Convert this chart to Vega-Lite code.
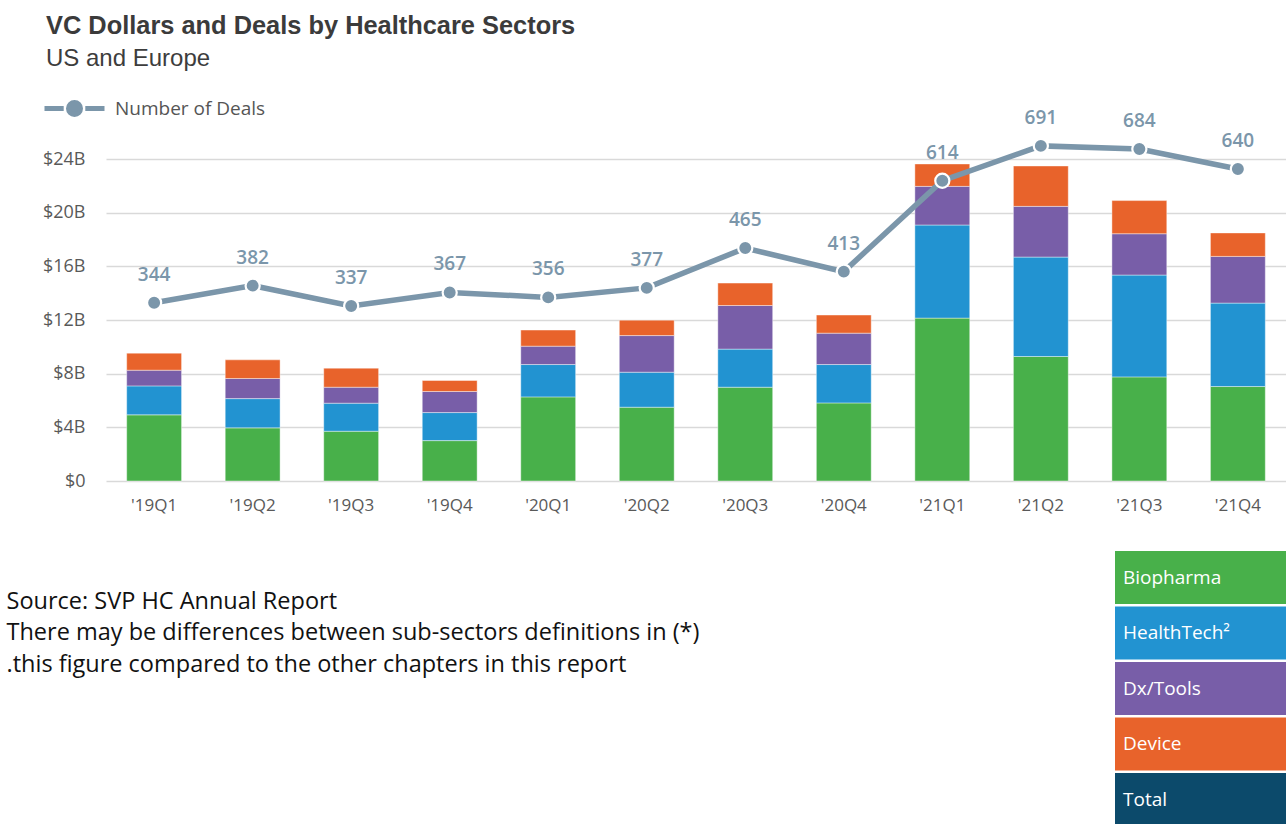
{
  "$schema": "https://vega.github.io/schema/vega-lite/v6.json",
  "width": 1180,
  "height": 322,
  "autosize": {"type": "none"},
  "padding": {"left": 106, "top": 159, "right": 0, "bottom": 343},
  "background": "white",
  "config": {"view": {"stroke": null}},
  "title": {
    "text": "VC Dollars and Deals by Healthcare Sectors",
    "subtitle": "US and Europe",
    "anchor": "start",
    "frame": "group",
    "dx": -60,
    "offset": 5,
    "font": "Liberation Sans",
    "fontSize": 25.4,
    "fontWeight": "bold",
    "color": "#3b3b3b",
    "subtitleFont": "Liberation Sans",
    "subtitleFontSize": 24,
    "subtitleColor": "#3d3d3d",
    "subtitlePadding": 8
  },
  "datasets": {
    "bars": [
      {"q": "'19Q1", "sector": "Biopharma", "k": 1, "v": 4.93},
      {"q": "'19Q1", "sector": "HealthTech²", "k": 2, "v": 2.16},
      {"q": "'19Q1", "sector": "Dx/Tools", "k": 3, "v": 1.17},
      {"q": "'19Q1", "sector": "Device", "k": 4, "v": 1.27},
      {"q": "'19Q2", "sector": "Biopharma", "k": 1, "v": 3.96},
      {"q": "'19Q2", "sector": "HealthTech²", "k": 2, "v": 2.18},
      {"q": "'19Q2", "sector": "Dx/Tools", "k": 3, "v": 1.50},
      {"q": "'19Q2", "sector": "Device", "k": 4, "v": 1.39},
      {"q": "'19Q3", "sector": "Biopharma", "k": 1, "v": 3.71},
      {"q": "'19Q3", "sector": "HealthTech²", "k": 2, "v": 2.09},
      {"q": "'19Q3", "sector": "Dx/Tools", "k": 3, "v": 1.19},
      {"q": "'19Q3", "sector": "Device", "k": 4, "v": 1.42},
      {"q": "'19Q4", "sector": "Biopharma", "k": 1, "v": 3.01},
      {"q": "'19Q4", "sector": "HealthTech²", "k": 2, "v": 2.09},
      {"q": "'19Q4", "sector": "Dx/Tools", "k": 3, "v": 1.57},
      {"q": "'19Q4", "sector": "Device", "k": 4, "v": 0.82},
      {"q": "'20Q1", "sector": "Biopharma", "k": 1, "v": 6.27},
      {"q": "'20Q1", "sector": "HealthTech²", "k": 2, "v": 2.41},
      {"q": "'20Q1", "sector": "Dx/Tools", "k": 3, "v": 1.37},
      {"q": "'20Q1", "sector": "Device", "k": 4, "v": 1.20},
      {"q": "'20Q2", "sector": "Biopharma", "k": 1, "v": 5.50},
      {"q": "'20Q2", "sector": "HealthTech²", "k": 2, "v": 2.61},
      {"q": "'20Q2", "sector": "Dx/Tools", "k": 3, "v": 2.73},
      {"q": "'20Q2", "sector": "Device", "k": 4, "v": 1.15},
      {"q": "'20Q3", "sector": "Biopharma", "k": 1, "v": 6.99},
      {"q": "'20Q3", "sector": "HealthTech²", "k": 2, "v": 2.84},
      {"q": "'20Q3", "sector": "Dx/Tools", "k": 3, "v": 3.25},
      {"q": "'20Q3", "sector": "Device", "k": 4, "v": 1.67},
      {"q": "'20Q4", "sector": "Biopharma", "k": 1, "v": 5.82},
      {"q": "'20Q4", "sector": "HealthTech²", "k": 2, "v": 2.86},
      {"q": "'20Q4", "sector": "Dx/Tools", "k": 3, "v": 2.34},
      {"q": "'20Q4", "sector": "Device", "k": 4, "v": 1.35},
      {"q": "'21Q1", "sector": "Biopharma", "k": 1, "v": 12.14},
      {"q": "'21Q1", "sector": "HealthTech²", "k": 2, "v": 6.94},
      {"q": "'21Q1", "sector": "Dx/Tools", "k": 3, "v": 2.88},
      {"q": "'21Q1", "sector": "Device", "k": 4, "v": 1.67},
      {"q": "'21Q2", "sector": "Biopharma", "k": 1, "v": 9.28},
      {"q": "'21Q2", "sector": "HealthTech²", "k": 2, "v": 7.41},
      {"q": "'21Q2", "sector": "Dx/Tools", "k": 3, "v": 3.78},
      {"q": "'21Q2", "sector": "Device", "k": 4, "v": 3.01},
      {"q": "'21Q3", "sector": "Biopharma", "k": 1, "v": 7.76},
      {"q": "'21Q3", "sector": "HealthTech²", "k": 2, "v": 7.59},
      {"q": "'21Q3", "sector": "Dx/Tools", "k": 3, "v": 3.08},
      {"q": "'21Q3", "sector": "Device", "k": 4, "v": 2.47},
      {"q": "'21Q4", "sector": "Biopharma", "k": 1, "v": 7.04},
      {"q": "'21Q4", "sector": "HealthTech²", "k": 2, "v": 6.22},
      {"q": "'21Q4", "sector": "Dx/Tools", "k": 3, "v": 3.48},
      {"q": "'21Q4", "sector": "Device", "k": 4, "v": 1.75}
    ],
    "deals": [
      {"q": "'19Q1", "deals": 344},
      {"q": "'19Q2", "deals": 382},
      {"q": "'19Q3", "deals": 337},
      {"q": "'19Q4", "deals": 367},
      {"q": "'20Q1", "deals": 356},
      {"q": "'20Q2", "deals": 377},
      {"q": "'20Q3", "deals": 465},
      {"q": "'20Q4", "deals": 413},
      {"q": "'21Q1", "deals": 614},
      {"q": "'21Q2", "deals": 691},
      {"q": "'21Q3", "deals": 684},
      {"q": "'21Q4", "deals": 640}
    ]
  },
  "layer": [
    {
      "data": {"name": "bars"},
      "mark": {"type": "bar", "stroke": "#ffffff", "strokeWidth": 0.7, "strokeOpacity": 0.6},
      "encoding": {
        "x": {
          "field": "q",
          "type": "nominal",
          "sort": null,
          "scale": {"paddingInner": 0.443, "paddingOuter": 0.21},
          "axis": {
            "title": ["Source: SVP HC Annual Report", "There may be differences between sub-sectors definitions in (*)", ".this figure compared to the other chapters in this report"],
            "titleX": -100,
            "titleY": 108,
            "titleAlign": "left",
            "titleBaseline": "top",
            "titleFont": "Open Sans",
            "titleFontSize": 23.5,
            "titleFontWeight": "normal",
            "titleColor": "#111111",
            "titleLineHeight": 31.5,
            "labelAngle": 0,
            "ticks": false,
            "domain": false,
            "labelPadding": 16,
            "labelFont": "Open Sans",
            "labelFontSize": 17,
            "labelColor": "#595959"
          }
        },
        "y": {
          "aggregate": "sum",
          "field": "v",
          "type": "quantitative",
          "stack": "zero",
          "scale": {"domain": [0, 24], "nice": false},
          "axis": {
            "title": null,
            "values": [0, 4, 8, 12, 16, 20, 24],
            "labelExpr": "datum.value == 0 ? '$0' : '$' + datum.value + 'B'",
            "domain": false,
            "ticks": false,
            "labelPadding": 21,
            "labelFont": "Open Sans",
            "labelFontSize": 18,
            "labelColor": "#595959",
            "gridColor": "#d9d9d9",
            "gridWidth": 1.6
          }
        },
        "fill": {
          "field": "sector",
          "type": "nominal",
          "scale": {
            "domain": ["Biopharma", "HealthTech²", "Dx/Tools", "Device", "Total"],
            "range": ["#48b04a", "#2293d1", "#785ea8", "#e8632b", "#0c4a6b"]
          },
          "legend": {
            "orient": "none",
            "legendX": 1009,
            "legendY": 391,
            "title": null,
            "padding": 0,
            "symbolType": "M-1,-0.96 H5.25 V0.96 H-1 Z",
            "symbolSize": 3025,
            "symbolStrokeWidth": 0,
            "symbolOpacity": 1,
            "labelColor": "#ffffff",
            "labelFont": "Open Sans",
            "labelFontSize": 19,
            "labelOffset": -47,
            "rowPadding": 1.5
          }
        },
        "order": {"field": "k", "type": "quantitative"}
      }
    },
    {
      "data": {"name": "deals"},
      "encoding": {
        "x": {"field": "q", "type": "nominal", "sort": null},
        "y": {
          "field": "deals",
          "type": "quantitative",
          "scale": {"domain": [-50, 662], "nice": false, "zero": false},
          "axis": null
        }
      },
      "layer": [
        {
          "mark": {"type": "line", "strokeWidth": 5.5},
          "encoding": {
            "stroke": {
              "datum": "Number of Deals",
              "type": "nominal",
              "scale": {"range": ["#7b96aa"]},
              "legend": {
                "orient": "none",
                "legendX": -64,
                "legendY": -83,
                "title": null,
                "padding": 0,
                "symbolType": "M-1,0 H-0.36 M0.36,0 H1 M0.2,0 A0.2,0.2 0 1 1 -0.2,0 A0.2,0.2 0 1 1 0.2,0 Z",
                "symbolSize": 3600,
                "symbolStrokeWidth": 5,
                "labelFont": "Open Sans",
                "labelFontSize": 19,
                "labelColor": "#555555",
                "labelOffset": 8,
                "encode": {"symbols": {"update": {"fill": {"value": "#7b96aa"}, "stroke": {"value": "#7b96aa"}, "opacity": {"value": 1}}}}
              }
            }
          }
        },
        {
          "mark": {"type": "point", "filled": true, "fill": "#7b96aa", "stroke": "#ffffff", "strokeWidth": 2.2, "size": 200, "opacity": 1}
        },
        {
          "mark": {"type": "text", "dy": -28, "font": "Open Sans", "fontSize": 19, "fontWeight": 600, "fill": "#7b96aa"},
          "encoding": {"text": {"field": "deals", "type": "quantitative"}}
        }
      ]
    }
  ],
  "resolve": {"scale": {"y": "independent"}}
}
